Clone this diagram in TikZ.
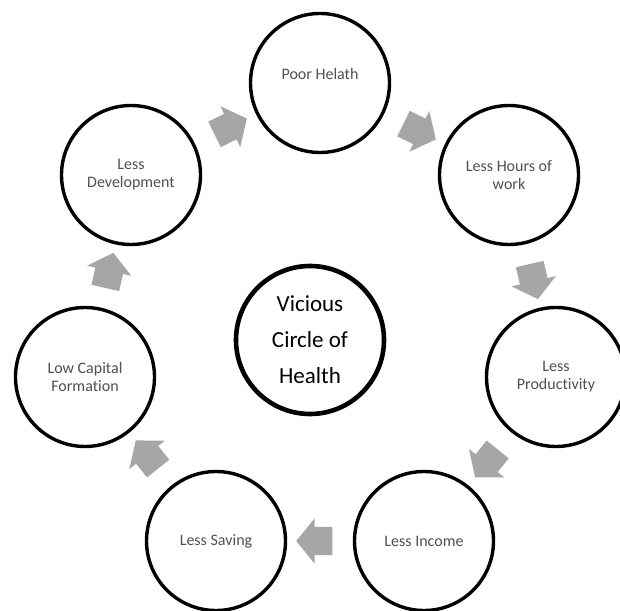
\documentclass[tikz,border=0pt]{standalone}
\usepackage{fontspec}
\setmainfont[Ligatures=NoCommon]{Carlito}
\usetikzlibrary{shapes.arrows}

\definecolor{stagetext}{RGB}{80,80,80}
\definecolor{flowgray}{RGB}{166,166,166}

\tikzset{
  stage/.style={circle, draw=black, line width=3.4pt, fill=white,
    minimum size=139pt, inner sep=0pt, align=center,
    text=stagetext, font=\fontsize{16pt}{18pt}\selectfont},
  hub/.style={circle, draw=black, line width=4.6pt, fill=white,
    minimum size=148pt, inner sep=0pt, align=center,
    text=black, font=\fontsize{23pt}{36pt}\selectfont},
  flowarrow/.style={single arrow, fill=flowgray, draw=none,
    minimum height=36pt, inner xsep=0pt, inner ysep=14pt,
    single arrow head extend=8.5pt, single arrow tip angle=102,
    midway, sloped, allow upside down}
}

\begin{document}
\begin{tikzpicture}[x=1pt, y=1pt]
  \fill[white] (0,0) rectangle (620,610);
  \useasboundingbox (0,0) rectangle (620,610);

  % stages of the cycle, clockwise from the top
  \node[stage] (ph) at (320,527) {Poor Helath\\\mbox{}};
  \node[stage] (lh) at (509,435) {Less Hours of\\work};
  \node[stage] (lp) at (556,233) {Less\\Productivity};
  \node[stage] (li) at (424,69)  {Less Income};
  \node[stage] (ls) at (216,69)  {Less Saving};
  \node[stage] (lc) at (85,233)  {Low Capital\\Formation};
  \node[stage] (ld) at (131,435) {Less\\Development};

  % central label
  \node[hub] (vc) at (310,270) {Vicious\\Circle of\\Health};

  % block arrows between consecutive stages
  \path (ph) -- (lh) node[flowarrow] (a1) {};
  \path (lh) -- (lp) node[flowarrow] (a2) {};
  \path (lp) -- (li) node[flowarrow] (a3) {};
  \path (li) -- (ls) node[flowarrow] (a4) {};
  \path (ls) -- (lc) node[flowarrow] (a5) {};
  \path (lc) -- (ld) node[flowarrow] (a6) {};
  \path (ld) -- (ph) node[flowarrow] (a7) {};
\end{tikzpicture}
\end{document}
